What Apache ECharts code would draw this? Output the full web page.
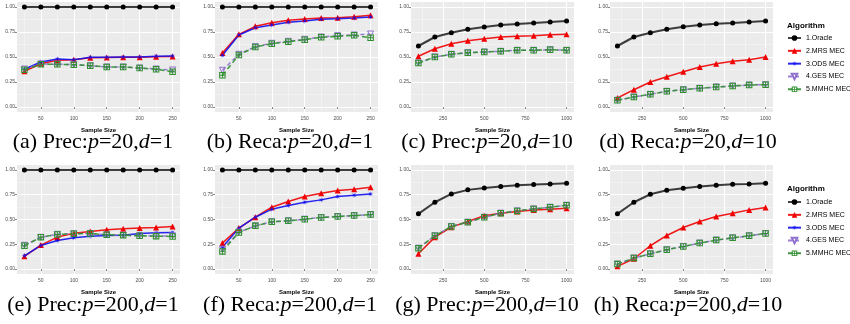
<!DOCTYPE html>
<html style="height: 100%">
<head>
    <script src="https://cdn.jsdelivr.net/npm/echarts@6.0.0/dist/echarts.min.js"></script>
</head>
<body style="height: 100%; margin: 0; background: #fff">
    <div id="main" style="width: 850px; height: 324px"></div>
    <script type="text/javascript">
    var chartDom = document.getElementById('main');
    var myChart = echarts.init(chartDom, null, { renderer: 'canvas' });

    // sample sizes
    var xSmall = [25, 50, 75, 100, 125, 150, 175, 200, 225, 250];
    var xLarge = [100, 200, 300, 400, 500, 600, 700, 800, 900, 1000];

    var algoNames = ['1.Oracle', '2.MRS MEC', '3.ODS MEC', '4.GES MEC', '5.MMHC MEC'];

    // tick labels
    var yTicks = [0, 0.25, 0.5, 0.75, 1];
    var yMinor = [0.125, 0.375, 0.625, 0.875];
    var xTicksSmall = [50, 100, 150, 200, 250];
    var xMinorSmall = [25, 75, 125, 175, 225];
    var xTicksLarge = [250, 500, 750, 1000];
    var xMinorLarge = [125, 375, 625, 875];

    // (a) Prec p=20 d=1
    var aOracle = [1, 1, 1, 1, 1, 1, 1, 1, 1, 1];
    var aMRS  = [0.357, 0.433, 0.467, 0.473, 0.493, 0.495, 0.497, 0.498, 0.503, 0.505];
    var aODS  = [0.377, 0.45, 0.48, 0.473, 0.497, 0.497, 0.5, 0.5, 0.507, 0.51];
    var aGES  = [0.38, 0.43, 0.428, 0.423, 0.413, 0.4, 0.4, 0.39, 0.38, 0.37];
    var aMMHC = [0.373, 0.427, 0.427, 0.423, 0.413, 0.4, 0.4, 0.39, 0.377, 0.353];

    // (b) Reca p=20 d=1
    var bOracle = [1, 1, 1, 1, 1, 1, 1, 1, 1, 1];
    var bMRS  = [0.54, 0.727, 0.807, 0.843, 0.867, 0.88, 0.89, 0.893, 0.903, 0.917];
    var bODS  = [0.517, 0.72, 0.793, 0.82, 0.847, 0.86, 0.877, 0.883, 0.89, 0.9];
    var bGES  = [0.367, 0.527, 0.603, 0.637, 0.657, 0.677, 0.7, 0.713, 0.72, 0.73];
    var bMMHC = [0.317, 0.52, 0.6, 0.633, 0.653, 0.673, 0.697, 0.707, 0.717, 0.693];

    // (c) Prec p=20 d=10
    var cOracle = [0.61, 0.7, 0.743, 0.777, 0.8, 0.82, 0.83, 0.84, 0.85, 0.86];
    var cMRS  = [0.507, 0.583, 0.633, 0.663, 0.683, 0.7, 0.707, 0.713, 0.723, 0.727];
    var cODS  = [null, null, null, null, null, null, null, null, null, null];
    var cGES  = [0.44, 0.5, 0.527, 0.543, 0.55, 0.557, 0.567, 0.567, 0.573, 0.567];
    var cMMHC = [0.44, 0.5, 0.527, 0.543, 0.55, 0.557, 0.567, 0.567, 0.573, 0.567];

    // (d) Reca p=20 d=10
    var dOracle = [0.61, 0.7, 0.743, 0.777, 0.803, 0.82, 0.833, 0.84, 0.85, 0.86];
    var dMRS  = [0.09, 0.173, 0.25, 0.303, 0.353, 0.4, 0.433, 0.457, 0.473, 0.5];
    var dODS  = [null, null, null, null, null, null, null, null, null, null];
    var dGES  = [0.067, 0.1, 0.127, 0.157, 0.173, 0.187, 0.2, 0.21, 0.22, 0.223];
    var dMMHC = [0.067, 0.1, 0.127, 0.157, 0.173, 0.187, 0.2, 0.21, 0.22, 0.223];

    // (e) Prec p=200 d=1
    var eOracle = [1, 1, 1, 1, 1, 1, 1, 1, 1, 1];
    var eMRS  = [0.128, 0.242, 0.322, 0.362, 0.379, 0.396, 0.406, 0.413, 0.419, 0.43];
    var eODS  = [0.134, 0.238, 0.289, 0.315, 0.332, 0.339, 0.342, 0.359, 0.366, 0.369];
    var eGES  = [0.24, 0.32, 0.35, 0.356, 0.359, 0.346, 0.342, 0.336, 0.334, 0.335];
    var eMMHC = [0.235, 0.322, 0.349, 0.356, 0.359, 0.346, 0.342, 0.336, 0.332, 0.329];

    // (f) Reca p=200 d=1
    var fOracle = [1, 1, 1, 1, 1, 1, 1, 1, 1, 1];
    var fMRS  = [0.262, 0.413, 0.523, 0.624, 0.681, 0.732, 0.765, 0.792, 0.805, 0.826];
    var fODS  = [0.221, 0.413, 0.523, 0.604, 0.641, 0.674, 0.698, 0.732, 0.745, 0.758];
    var fGES  = [0.2, 0.372, 0.436, 0.477, 0.487, 0.503, 0.52, 0.53, 0.54, 0.55];
    var fMMHC = [0.178, 0.369, 0.436, 0.477, 0.487, 0.503, 0.52, 0.53, 0.54, 0.55];

    // (g) Prec p=200 d=10
    var gOracle = [0.557, 0.674, 0.758, 0.799, 0.819, 0.832, 0.846, 0.852, 0.859, 0.866];
    var gMRS  = [0.154, 0.322, 0.423, 0.48, 0.537, 0.564, 0.58, 0.597, 0.604, 0.614];
    var gODS  = [null, null, null, null, null, null, null, null, null, null];
    var gGES  = [0.211, 0.336, 0.43, 0.473, 0.523, 0.564, 0.587, 0.607, 0.624, 0.644];
    var gMMHC = [0.211, 0.336, 0.43, 0.473, 0.523, 0.564, 0.587, 0.607, 0.624, 0.644];

    // (h) Reca p=200 d=10
    var hOracle = [0.557, 0.674, 0.755, 0.795, 0.815, 0.832, 0.846, 0.856, 0.859, 0.866];
    var hMRS  = [0.027, 0.104, 0.235, 0.339, 0.419, 0.48, 0.53, 0.564, 0.597, 0.621];
    var hODS  = [null, null, null, null, null, null, null, null, null, null];
    var hGES  = [0.05, 0.111, 0.154, 0.195, 0.228, 0.262, 0.292, 0.315, 0.336, 0.359];
    var hMMHC = [0.05, 0.111, 0.154, 0.195, 0.228, 0.262, 0.292, 0.315, 0.336, 0.359];

    // captions
    var capLetter = ['(a) Prec', '(b) Reca', '(c) Prec', '(d) Reca', '(e) Prec', '(f) Reca', '(g) Prec', '(h) Reca'];
    var capP = [20, 20, 20, 20, 200, 200, 200, 200];
    var capD = [1, 1, 10, 10, 1, 1, 10, 10];

    var panels = [
        { x: xSmall, ys: [aOracle, aMRS, aODS, aGES, aMMHC] },
        { x: xSmall, ys: [bOracle, bMRS, bODS, bGES, bMMHC] },
        { x: xLarge, ys: [cOracle, cMRS, cODS, cGES, cMMHC] },
        { x: xLarge, ys: [dOracle, dMRS, dODS, dGES, dMMHC] },
        { x: xSmall, ys: [eOracle, eMRS, eODS, eGES, eMMHC] },
        { x: xSmall, ys: [fOracle, fMRS, fODS, fGES, fMMHC] },
        { x: xLarge, ys: [gOracle, gMRS, gODS, gGES, gMMHC] },
        { x: xLarge, ys: [hOracle, hMRS, hODS, hGES, hMMHC] }
    ];

    // layout
    var colLeft = [17, 215, 411, 610];
    var colWidth = 163;
    var rowTop = [2, 165];
    var rowHeight = [110, 109];
    var capX = [93, 290, 487, 688];
    var capY = [142, 305];

    var starPath = 'path://M5,0 L5.5,3.8 L8.54,1.46 L6.2,4.5 L10,5 L6.2,5.5 L8.54,8.54 L5.5,6.2 L5,10 L4.5,6.2 L1.46,8.54 L3.8,5.5 L0,5 L3.8,4.5 L1.46,1.46 L4.5,3.8 Z';
    var boxPlusPath = 'path://M0,0 H10 V10 H0 Z M1.6,1.6 V4.3 H4.3 V1.6 Z M5.7,1.6 V4.3 H8.4 V1.6 Z M1.6,5.7 V8.4 H4.3 V5.7 Z M5.7,5.7 V8.4 H8.4 V5.7 Z';

    var styles = [
        { color: '#000000', symbol: 'circle', size: 5, width: 2, type: 'solid', opacity: 0.75 },
        { color: '#f00000', symbol: 'triangle', size: 6, width: 1.5, type: 'solid', opacity: 0.9 },
        { color: '#1010f0', symbol: starPath, size: 6, width: 1.5, type: 'solid', opacity: 0.9 },
        { color: '#9071d0', symbol: 'triangle', size: 6, width: 1.5, type: [4, 3], opacity: 0.9, hollow: true, rotate: 180 },
        { color: '#2f8f2f', symbol: boxPlusPath, size: 6.5, width: 1.5, type: [5, 3], opacity: 0.9 }
    ];

    var grids = [], xAxes = [], yAxes = [], series = [], graphics = [];

    panels.forEach(function (p, i) {
        var col = i % 4, row = Math.floor(i / 4);
        var small = p.x === xSmall;
        grids.push({
            left: colLeft[col], top: rowTop[row], width: colWidth, height: rowHeight[row],
            show: true, backgroundColor: '#ebebeb', borderWidth: 0
        });
        var xmin = small ? 13.75 : 55, xmax = small ? 261.25 : 1045;
        xAxes.push({
            type: 'value', gridIndex: i, min: xmin, max: xmax,
            name: 'Sample Size', nameLocation: 'middle', nameGap: 13,
            nameTextStyle: { fontSize: 6, fontWeight: 'bold', color: '#000', fontFamily: 'Liberation Sans' },
            axisLine: { show: false },
            axisTick: { show: true, length: 2, lineStyle: { color: '#333', width: 0.6 }, customValues: small ? xTicksSmall : xTicksLarge },
            axisLabel: {
                fontSize: 5, color: '#4d4d4d', margin: 2, fontFamily: 'Liberation Sans',
                customValues: small ? xTicksSmall : xTicksLarge,
                formatter: function (v) { return String(v); }
            },
            splitLine: { show: true, lineStyle: { color: '#ffffff', width: 1 } }
        });
        xAxes.push({
            type: 'value', gridIndex: i, min: xmin, max: xmax,
            axisLine: { show: false }, axisLabel: { show: false },
            axisTick: { show: false, customValues: small ? xMinorSmall : xMinorLarge },
            splitLine: { show: true, lineStyle: { color: '#f7f7f7', width: 0.6 } }
        });
        yAxes.push({
            type: 'value', gridIndex: i, min: -0.05, max: 1.05,
            axisLine: { show: false },
            axisTick: { show: true, length: 2, lineStyle: { color: '#333', width: 0.6 }, customValues: yTicks },
            axisLabel: {
                fontSize: 5, color: '#4d4d4d', margin: 2, fontFamily: 'Liberation Sans', customValues: yTicks,
                formatter: function (v) { return v.toFixed(2); }
            },
            splitLine: { show: true, lineStyle: { color: '#ffffff', width: 1 } }
        });
        yAxes.push({
            type: 'value', gridIndex: i, min: -0.05, max: 1.05,
            axisLine: { show: false }, axisLabel: { show: false },
            axisTick: { show: false, customValues: yMinor },
            splitLine: { show: true, lineStyle: { color: '#f7f7f7', width: 0.6 } }
        });

        p.ys.forEach(function (vals, k) {
            var st = styles[k];
            series.push({
                name: algoNames[k],
                type: 'line',
                xAxisIndex: 2 * i, yAxisIndex: 2 * i,
                data: p.x.map(function (xv, j) { return [xv, vals[j]]; }),
                symbol: st.symbol, symbolSize: st.size, symbolRotate: st.rotate || 0,
                showAllSymbol: true,
                itemStyle: st.hollow
                    ? { color: 'rgba(255,255,255,0)', borderColor: st.color, borderWidth: 1 }
                    : { color: st.color, borderWidth: 0 },
                lineStyle: { color: st.color, width: st.width, type: st.type, opacity: st.opacity },
                emphasis: { disabled: true },
                silent: true
            });
        });

        graphics.push({
            type: 'text', x: capX[col], y: capY[row],
            style: {
                text: capLetter[i] + ':{i|p}=' + capP[i] + ',{i|d}=' + capD[i],
                fill: '#000', font: '22px "Liberation Serif"',
                align: 'center', verticalAlign: 'middle',
                rich: { i: { fontStyle: 'italic', fontSize: 22, fontFamily: 'Liberation Serif', fill: '#000' } }
            }
        });
    });

    var legendBase = {
        orient: 'vertical', left: 787, padding: 0,
        itemWidth: 13, itemHeight: 7, itemGap: 0.75,
        data: algoNames,
        textStyle: { fontSize: 7, lineHeight: 8, color: '#000', fontFamily: 'Liberation Sans' },
        selectedMode: false
    };

    var option = {
        backgroundColor: '#ffffff',
        animation: false,
        title: [
            { text: 'Algorithm', left: 787, top: 19, padding: 0, textStyle: { fontSize: 8, fontWeight: 'bold', color: '#000', fontFamily: 'Liberation Sans' } },
            { text: 'Algorithm', left: 787, top: 182, padding: 0, textStyle: { fontSize: 8, fontWeight: 'bold', color: '#000', fontFamily: 'Liberation Sans' } }
        ],
        legend: [
            Object.assign({}, legendBase, { top: 32 }),
            Object.assign({}, legendBase, { top: 196 })
        ],
        grid: grids,
        xAxis: xAxes,
        yAxis: yAxes,
        series: series,
        graphic: graphics
    };

    myChart.setOption(option);
    </script>
</body>
</html>
